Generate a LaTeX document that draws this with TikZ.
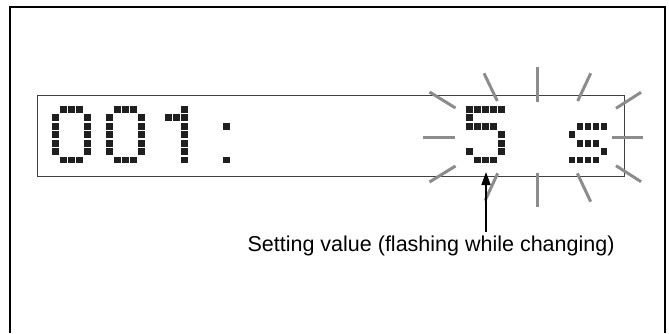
\documentclass[tikz,border=0pt]{standalone}
\usepackage{fontspec}
\setmainfont{Liberation Sans}
\usetikzlibrary{arrows.meta}
\newcommand\lcdchar[2]{%
  \foreach \dx/\dy in {#2} {%
    \fill[lcddot] ({#1+8*\dx-3.3},{109.3+8.45*\dy-3.4}) rectangle ++(6.6,6.8);
  }%
}
\begin{document}
\begin{tikzpicture}[x=1pt,y=-1pt,
  frameline/.style={line width=2pt,draw=black},
  lcdbox/.style={line width=1pt,draw=black!75},
  ray/.style={line width=3pt,draw=black!45},
  lcddot/.style={fill=black!88},
  pointer/.style={line width=1.5pt,draw=black,-{Triangle[length=13pt,width=9pt]}},
  caption/.style={font=\fontsize{21.5}{25}\selectfont, inner sep=0pt, anchor=base west}]
\useasboundingbox (0,0) rectangle (669,333);
% outer frame (open at the bottom)
\draw[frameline] (10,333) -- (10,7) -- (665,7) -- (665,333);
% display window
\draw[lcdbox] (37.5,95) rectangle (624.5,176.8);
% characters
\lcdchar{55.7}{1/0,2/0,3/0,0/1,4/1,0/2,4/2,0/3,4/3,0/4,4/4,0/5,4/5,1/6,2/6,3/6}
\lcdchar{109.3}{1/0,2/0,3/0,0/1,4/1,0/2,4/2,0/3,4/3,0/4,4/4,0/5,4/5,1/6,2/6,3/6}
\lcdchar{152.7}{4/0,2/1,3/1,4/1,4/2,4/3,4/4,4/5,4/6}
\lcdchar{226.7}{0/2,0/6}
\lcdchar{469.3}{0/0,1/0,2/0,3/0,4/0,0/1,0/2,1/2,2/2,3/2,4/3,4/4,0/5,4/5,1/6,2/6,3/6}
\lcdchar{572}{1/2,2/2,3/2,4/2,0/3,1/4,2/4,3/4,4/5,0/6,1/6,2/6,3/6}
% flashing rays
\draw[ray] (429.5,92) -- (455.5,108);
\draw[ray] (422.7,137.3) -- (455,137.3);
\draw[ray] (429.5,182) -- (455.5,166);
\draw[ray] (484,73.3) -- (497.3,101);
\draw[ray] (537.3,67.3) -- (537.3,101.7);
\draw[ray] (590.7,73.3) -- (577.7,101);
\draw[ray] (641,92.3) -- (616,108.3);
\draw[ray] (611.7,137.3) -- (642.7,137.3);
\draw[ray] (616,165.7) -- (641,181.7);
\draw[ray] (537.3,172.7) -- (537.3,206.7);
\draw[ray] (577.3,173.3) -- (590.7,201.7);
\draw[ray] (497.7,173.3) -- (485,200.7);
% label and pointer
\node[caption] (lbl) at (247.4,251) {Setting value (flashing while changing)};
\coordinate (tip) at (486,172);
\path (lbl.north -| tip) ++(0,-3) coordinate (tail);
\draw[pointer] (tail) -- (tip);
\end{tikzpicture}
\end{document}
